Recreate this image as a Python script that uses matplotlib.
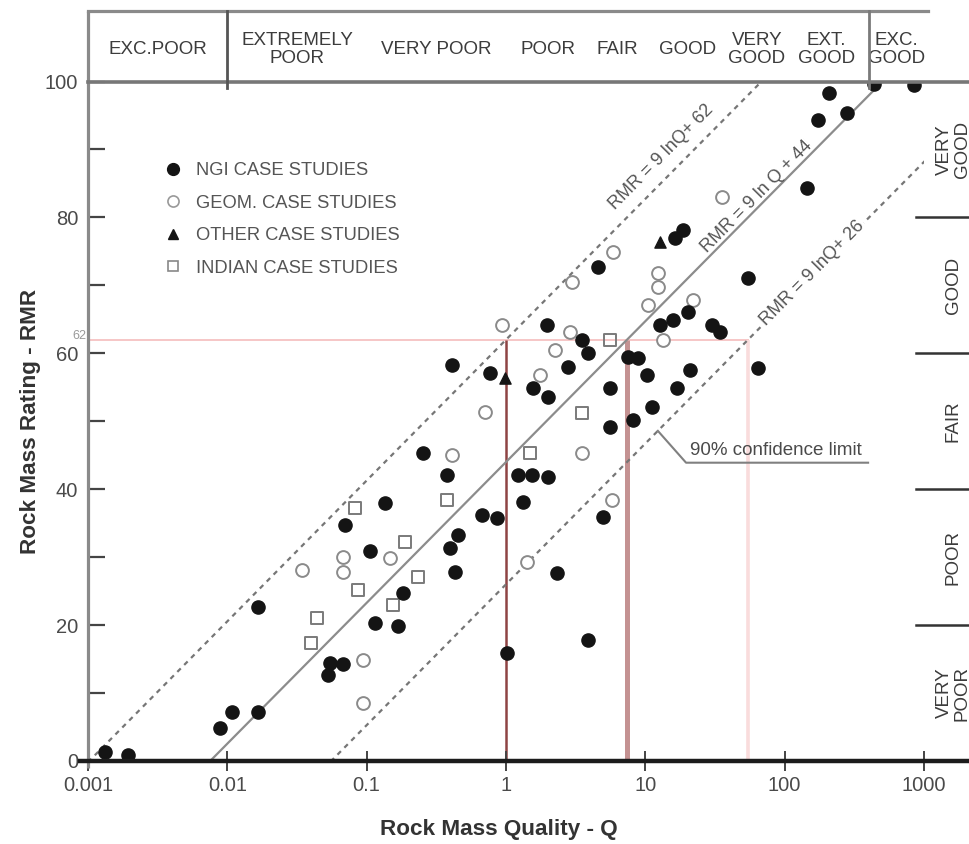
import numpy as np
import matplotlib
matplotlib.use("Agg")
import matplotlib.pyplot as plt
from matplotlib.lines import Line2D
from matplotlib.ticker import NullLocator

plt.rcParams["font.family"] = ["Liberation Sans", "DejaVu Sans"]

# ---- case-study data: Q (rock mass quality) and RMR (rock mass rating) ----
ngi_q = [0.00132, 0.00193, 0.0089, 0.0108, 0.0166, 0.0166, 0.0527, 0.0545, 0.0676,
         0.115, 0.168, 0.182, 0.070, 0.106, 0.135, 0.254, 0.377, 0.409, 0.767,
         0.452, 0.396, 0.43, 0.673, 0.861, 1.02, 1.32, 1.22, 1.54, 2.0, 1.97,
         3.51, 3.88, 2.79, 1.56, 2.0, 2.32, 3.88, 4.97, 4.57, 5.58, 5.58, 8.16,
         7.51, 8.87, 10.3, 11.2, 16.9, 12.8, 15.8, 20.3, 30.1, 34.4, 64.4, 20.9,
         54.6, 145, 174, 281, 208, 439, 849, 16.3, 18.7]
ngi_rmr = [1.3, 0.9, 4.9, 7.2, 7.2, 22.7, 12.7, 14.4, 14.3,
           20.3, 19.9, 24.7, 34.7, 30.9, 38.0, 45.3, 42.1, 58.3, 57.1,
           33.3, 31.3, 27.8, 36.2, 35.8, 15.9, 38.1, 42.1, 42.1, 41.8, 64.2,
           62.0, 60.0, 58.0, 54.9, 53.6, 27.7, 17.8, 35.9, 72.7, 54.9, 49.2, 50.2,
           59.5, 59.3, 56.8, 52.1, 54.9, 64.2, 64.9, 66.1, 64.2, 63.1, 57.8, 57.5,
           71.1, 84.3, 94.3, 95.4, 98.3, 99.6, 99.5, 77.0, 78.1]

geom_q = [0.936, 2.88, 2.25, 1.75, 0.707, 0.41, 3.51, 13.4, 10.5, 5.86, 2.98, 35.5,
          12.3, 12.3, 22.0, 1.42, 5.77, 0.0343, 0.0676, 0.0676, 0.147, 0.094, 0.094]
geom_rmr = [64.2, 63.1, 60.5, 56.8, 51.4, 45.0, 45.3, 62.0, 67.1, 74.9, 70.5, 83.0,
            71.8, 69.8, 67.8, 29.3, 38.4, 28.1, 30.0, 27.8, 29.9, 14.9, 8.5]

other_q = [0.99, 12.8]
other_rmr = [56.4, 76.4]

indian_q = [0.0824, 0.188, 0.0866, 0.154, 0.044, 0.040, 1.49, 3.51, 5.58, 0.377, 0.233]
indian_rmr = [37.2, 32.2, 25.2, 23.0, 21.0, 17.4, 45.3, 51.2, 62.0, 38.4, 27.1]

# ---- correlation lines RMR = a ln Q + b ----
slope = 9
intercepts = [62, 44, 26]
line_labels = ["RMR = 9 lnQ+ 62", "RMR = 9 ln Q + 44", "RMR = 9 lnQ+ 26"]
rmr_ref = 62

# ---- rock classes ----
q_bounds = [0.001, 0.01, 0.1, 1, 4, 10, 40, 100, 400, 1000]
q_names = ["EXC.POOR", "EXTREMELY\nPOOR", "VERY POOR", "POOR", "FAIR", "GOOD",
           "VERY\nGOOD", "EXT.\nGOOD", "EXC.\nGOOD"]
rmr_bounds = [0, 20, 40, 60, 80, 100]
rmr_names = ["VERY\nPOOR", "POOR", "FAIR", "GOOD", "VERY\nGOOD"]

x_ticks = [0.001, 0.01, 0.1, 1, 10, 100, 1000]
x_ticklabels = ["0.001", "0.01", "0.1", "1", "10", "100", "1000"]
y_ticks = [0, 20, 40, 60, 80, 100]

TXT = "#3c3c3c"
GRID = "#8a8a8a"

fig = plt.figure(figsize=(9.7, 8.44), dpi=100)
ax = fig.add_axes([88 / 970, 83 / 844, 836 / 970, 679.5 / 844])
ax.set_xscale("log")
ax.set_xlim(0.001, 1000)
ax.set_ylim(0, 100)
for s in ax.spines.values():
    s.set_visible(False)

# ticks
ax.set_xticks(x_ticks)
ax.set_xticklabels(x_ticklabels)
ax.xaxis.set_minor_locator(NullLocator())
ax.set_yticks(y_ticks)
ax.set_yticks([10, 30, 50, 70, 90], minor=True)
ax.tick_params(axis="x", which="major", direction="inout", length=15, width=1.4,
               color="#444444", labelcolor="#4a4a4a", labelsize=14.5, pad=3)
ax.tick_params(axis="y", which="both", direction="in", length=12, width=1.6,
               color="#444444", labelcolor="#4a4a4a", labelsize=14.5, pad=7)

ax.set_xlabel("Rock Mass Quality - Q", fontsize=16.2, fontweight="bold", color="#333333")
ax.set_ylabel("Rock Mass Rating - RMR", fontsize=16.2, fontweight="bold", color="#333333")
ax.xaxis.set_label_coords(0.4916, -0.1015)
ax.xaxis.label.set_va("center")
ax.yaxis.set_label_coords(-0.069, 0.5)
ax.yaxis.label.set_va("center")

# ---- frame: axes, top class band, right class band ----
band_top = 110.4
ax.plot([0.001, 0.001], [-1.0, band_top], color=GRID, lw=2.3, clip_on=False, zorder=5,
        solid_capstyle="butt")
ax.plot([0.001, 1070], [band_top, band_top], color=GRID, lw=2.3, clip_on=False, zorder=5)
ax.plot([0.001, 5000], [100, 100], color="#777777", lw=2.6, clip_on=False, zorder=5)
ax.plot([0.00088, 5000], [0, 0], color="#1c1c1c", lw=3.2, clip_on=False, zorder=6)
for qb, c in [(q_bounds[1], "#555555"), (q_bounds[8], "#7a7a7a")]:
    ax.plot([qb, qb], [99.0, band_top], color=c, lw=2.0, clip_on=False, zorder=5)

for i, name in enumerate(q_names):
    qc = np.sqrt(q_bounds[i] * q_bounds[i + 1])
    ax.text(qc, 104.7, name, ha="center", va="center", fontsize=13.5, color=TXT,
            linespacing=1.1, clip_on=False)

for rb in rmr_bounds[1:-1]:
    ax.plot([880, 5000], [rb, rb], color="#333333", lw=1.8, clip_on=False, zorder=5)
for i, name in enumerate(rmr_names):
    rc = 0.5 * (rmr_bounds[i] + rmr_bounds[i + 1])
    ax.text(1620, rc, name, ha="center", va="center", rotation=90, fontsize=13.5,
            color=TXT, linespacing=1.1, clip_on=False)

# ---- reference cut lines at RMR = 62 ----
q_cut = [np.exp((rmr_ref - b) / slope) for b in intercepts]
ax.plot([0.001, q_cut[2]], [rmr_ref, rmr_ref], color="#f6c6c6", lw=1.4, zorder=1)
for qc, col, lw in zip(q_cut, ["#8e4444", "#c49292", "#f9dcdc"], [1.8, 3.6, 2.6]):
    ax.plot([qc, qc], [0, rmr_ref], color=col, lw=lw, zorder=1, solid_capstyle="butt")
ax.text(0.00098, rmr_ref + 0.6, str(rmr_ref), ha="right", va="center", fontsize=9,
        color="#999999")

# ---- correlation lines ----
qq = np.logspace(-3.05, 3.05, 600)
styles = [dict(ls=(0, (2.2, 2.2)), color="#767676"),
          dict(ls="-", color="#8c8c8c"),
          dict(ls=(0, (2.2, 2.2)), color="#767676")]
for b, st in zip(intercepts, styles):
    ax.plot(qq, slope * np.log(qq) + b, lw=1.6, zorder=2, **st)


def line_angle(q0, b):
    p1 = ax.transData.transform((q0, slope * np.log(q0) + b))
    p2 = ax.transData.transform((q0 * 1.5, slope * np.log(q0 * 1.5) + b))
    return np.degrees(np.arctan2(p2[1] - p1[1], p2[0] - p1[0]))


label_q = [16.0, 70.0, 160.0]
label_off = [13.0, 6.0, 0.5]
for b, lab, q0, d in zip(intercepts, line_labels, label_q, label_off):
    ang = line_angle(q0, b)
    r = np.radians(ang)
    kw = dict(bbox=dict(boxstyle="square,pad=0.1", fc="white", ec="none")) if d < 1 else {}
    ax.annotate(lab, xy=(q0, slope * np.log(q0) + b),
                xytext=(-np.sin(r) * d, np.cos(r) * d), textcoords="offset points",
                rotation=ang, rotation_mode="anchor", ha="center", va="center",
                fontsize=13, color="#555555", zorder=3, **kw)

# ---- 90 % confidence note ----
q_lead = 12.3
ax.plot([q_lead, 19.6, 397], [slope * np.log(q_lead) + intercepts[2], 43.9, 43.9],
        color="#808080", lw=1.5, zorder=3)
ax.text(21.0, 44.5, "90% confidence limit", ha="left", va="bottom", fontsize=13.5,
        color="#4a4a4a")

# ---- case-study points ----
ax.scatter(geom_q, geom_rmr, s=85, marker="o", facecolor="white", edgecolor="#8a8a8a",
           linewidths=1.4, zorder=4)
ax.scatter(indian_q, indian_rmr, s=70, marker="s", facecolor="none", edgecolor="#7a7a7a",
           linewidths=1.4, zorder=4)
ax.scatter(other_q, other_rmr, s=65, marker="^", color="#161616", zorder=4)
ax.scatter(ngi_q, ngi_rmr, s=90, marker="o", color="#141414", zorder=4)

handles = [
    Line2D([], [], ls="", marker="o", ms=8.5, color="#141414"),
    Line2D([], [], ls="", marker="o", ms=8, mfc="white", mec="#999999", mew=1.2),
    Line2D([], [], ls="", marker="^", ms=7.5, color="#161616"),
    Line2D([], [], ls="", marker="s", ms=7, mfc="white", mec="#888888", mew=1.2),
]
labels = ["NGI CASE STUDIES", "GEOM. CASE STUDIES", "OTHER CASE STUDIES", "INDIAN CASE STUDIES"]
ax.legend(handles, labels, loc="upper left", bbox_to_anchor=(164 / 970, 1 - 162 / 844),
          bbox_transform=fig.transFigure, frameon=False, handlelength=1.0,
          handletextpad=0.75, borderpad=0, borderaxespad=0, labelspacing=0.85,
          prop={"size": 13.2}, labelcolor="#555555")

fig.savefig("out.png", dpi=100)
